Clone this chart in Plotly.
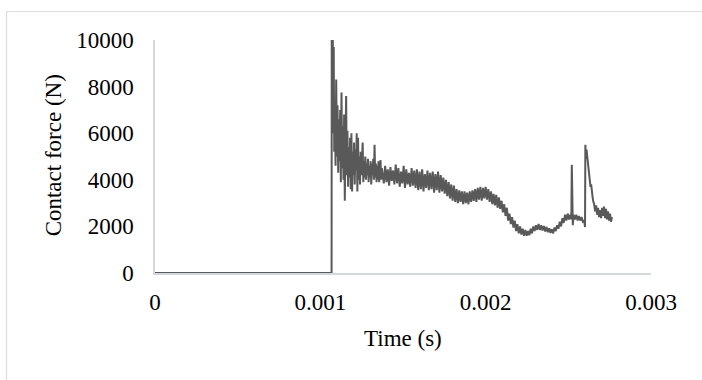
import plotly.graph_objects as go

# Time in microseconds and contact force in N
time_us = [0, 1068, 1069, 1072, 1075, 1078, 1081, 1084,
           1088, 1092, 1096, 1100, 1104, 1108, 1112, 1116, 1120, 1124, 1128, 1132,
           1136, 1140, 1144, 1148, 1152, 1156, 1160, 1164, 1168, 1172, 1176, 1180,
           1184, 1188, 1192, 1196, 1200, 1204, 1208, 1212, 1216, 1220, 1224, 1228,
           1232, 1236, 1240, 1244, 1248, 1252, 1256, 1260, 1264, 1268, 1272, 1276,
           1280, 1284, 1288, 1292, 1296, 1300, 1304, 1308, 1312, 1316, 1320, 1324,
           1328, 1332, 1336, 1340, 1344, 1348, 1352, 1356, 1360, 1364, 1368, 1372,
           1376, 1384, 1392, 1400, 1408, 1416, 1424, 1432, 1440, 1448, 1456, 1464,
           1472, 1480, 1488, 1496, 1504, 1512, 1520, 1528, 1536, 1544, 1552, 1560,
           1568, 1576, 1584, 1592, 1600, 1608, 1616, 1624, 1632, 1640, 1648, 1656,
           1664, 1672, 1680, 1688, 1696, 1704, 1712, 1720, 1728, 1736, 1744, 1752,
           1760, 1768, 1776, 1784, 1792, 1800, 1808, 1816, 1824, 1832, 1840, 1848,
           1856, 1864, 1872, 1880, 1888, 1896, 1904, 1912, 1920, 1928, 1936, 1944,
           1952, 1960, 1968, 1976, 1984, 1992, 2000, 2008, 2016, 2024, 2032, 2040,
           2048, 2056, 2064, 2072, 2080, 2088, 2096, 2104, 2112, 2120, 2128, 2136,
           2144, 2152, 2160, 2168, 2176, 2184, 2192, 2200, 2208, 2216, 2224, 2232,
           2240, 2248, 2256, 2264, 2272, 2280, 2288, 2296, 2304, 2312, 2320, 2328,
           2336, 2344, 2352, 2360, 2368, 2376, 2384, 2392, 2400, 2408, 2416, 2424,
           2432, 2440, 2448, 2456, 2464, 2472, 2480, 2488, 2496, 2504, 2512, 2518,
           2521, 2524, 2527, 2532, 2540, 2548, 2556, 2564, 2572, 2580, 2588, 2596,
           2601, 2603, 2607, 2610, 2614, 2618, 2622, 2626, 2630, 2634, 2638, 2642,
           2646, 2650, 2656, 2662, 2668, 2674, 2680, 2686, 2692, 2698, 2704, 2710,
           2716, 2722, 2728, 2734, 2740, 2746, 2752, 2758, 2764]

force_N = [0, 0, 10600, 6000, 10400, 7000, 9700, 5200,
           7400, 4600, 8300, 5000, 7200, 4300, 6600, 4800, 7000, 3900, 7750, 4500,
           6300, 4000, 6800, 3100, 5600, 7600, 4200, 6100, 3700, 5400, 4100, 5800,
           3600, 6000, 3500, 5200, 4200, 5600, 3800, 5300, 4400, 6000, 3500, 5800,
           4000, 5000, 3800, 5200, 4200, 4900, 5600, 3900, 4800, 4100, 5000, 4000,
           4700, 4200, 4900, 3900, 4600, 4100, 4800, 3800, 4700, 4200, 4900, 4000,
           5500, 4100, 4700, 3900, 4600, 4000, 4800, 3900, 4500, 4850, 4000, 4500,
           4300, 3850, 4600, 3900, 4450, 3750, 4550, 3950, 4400, 3800, 4650, 3850,
           4500, 3700, 4350, 3850, 4600, 3650, 4450, 3800, 4300, 3700, 4500, 3750,
           4400, 3650, 4450, 3550, 4350, 3600, 4450, 3500, 4250, 3650, 4400, 3550,
           4300, 3600, 4350, 3450, 4250, 3550, 4350, 3450, 4200, 3500, 4100, 3400,
           4000, 3300, 3900, 3200, 3800, 3100, 3750, 3050, 3600, 3000, 3550, 3050,
           3500, 2950, 3500, 3000, 3450, 2950, 3500, 3050, 3550, 3100, 3600, 3050,
           3650, 3150, 3700, 3100, 3650, 3200, 3700, 3150, 3600, 3050, 3500, 2950,
           3400, 2900, 3350, 2800, 3250, 2750, 3100, 2600, 2950, 2450, 2800, 2250,
           2550, 2100, 2400, 1950, 2250, 1800, 2100, 1700, 2000, 1650, 1900, 1600,
           1850, 1600, 1800, 1620, 1900, 1700, 2000, 1800, 2050, 1850, 2100, 1850,
           2050, 1820, 2020, 1780, 1980, 1750, 1920, 1720, 1880, 1700, 1950, 1800,
           2050, 1900, 2200, 2000, 2350, 2150, 2500, 2250, 2550, 2300, 2500, 2300,
           4640, 2200, 2050, 2500, 2300, 2500, 2250, 2450, 2250, 2400, 2200, 2250,
           1970, 5500, 4900, 5300, 5000, 4800, 4600, 4300, 4100, 3700, 3800, 3400,
           3300, 3100, 2950, 2650, 2900, 2500, 2800, 2400, 2700, 2350, 2800, 2450,
           2850, 2350, 2750, 2300, 2650, 2250, 2550, 2200, 2400]

x_ticks = [0, 0.001, 0.002, 0.003]
x_tick_labels = ["0", "0.001", "0.002", "0.003"]
y_ticks = [0, 2000, 4000, 6000, 8000, 10000]
y_tick_labels = ["0", "2000", "4000", "6000", "8000", "10000"]

time_s = [t * 1e-6 for t in time_us]

FONT = "Liberation Serif, Times New Roman, serif"

fig = go.Figure()
fig.add_trace(go.Scatter(
    x=time_s, y=force_N, mode="lines",
    line=dict(color="#595959", width=2),
    hoverinfo="skip", showlegend=False,
))

fig.update_layout(
    width=702, height=380,
    margin=dict(l=155, r=51, t=40, b=107),
    paper_bgcolor="white", plot_bgcolor="white",
    font=dict(family=FONT, size=23, color="black"),
    xaxis=dict(
        range=[0, 0.003], tickvals=x_ticks, ticktext=x_tick_labels,
        showgrid=False, zeroline=False, showline=True,
        linecolor="#d4d8de", linewidth=1.5, ticks="",
        ticklabelstandoff=8,
        tickfont=dict(family=FONT, size=23, color="black"),
    ),
    yaxis=dict(
        range=[0, 10000], tickvals=y_ticks, ticktext=y_tick_labels,
        showgrid=False, zeroline=False, showline=True,
        linecolor="#d4d8de", linewidth=1.5, ticks="",
        ticklabelstandoff=15,
        tickfont=dict(family=FONT, size=23, color="black"),
    ),
    shapes=[dict(
        type="rect", xref="paper", yref="paper",
        x0=-0.2994, x1=2.0, y0=-1.0, y1=1.1223,
        line=dict(color="#dadde3", width=1.2), fillcolor="rgba(0,0,0,0)",
        layer="below",
    )],
    annotations=[
        dict(text="Contact force (N)", xref="paper", yref="paper",
             x=-0.2056, y=0.505, textangle=-90, showarrow=False,
             xanchor="center", yanchor="middle",
             font=dict(family=FONT, size=23, color="black")),
        dict(text="Time (s)", xref="paper", yref="paper",
             x=0.5, y=-0.279, showarrow=False,
             xanchor="center", yanchor="middle",
             font=dict(family=FONT, size=23, color="black")),
    ],
)

fig.write_html("out.html")
